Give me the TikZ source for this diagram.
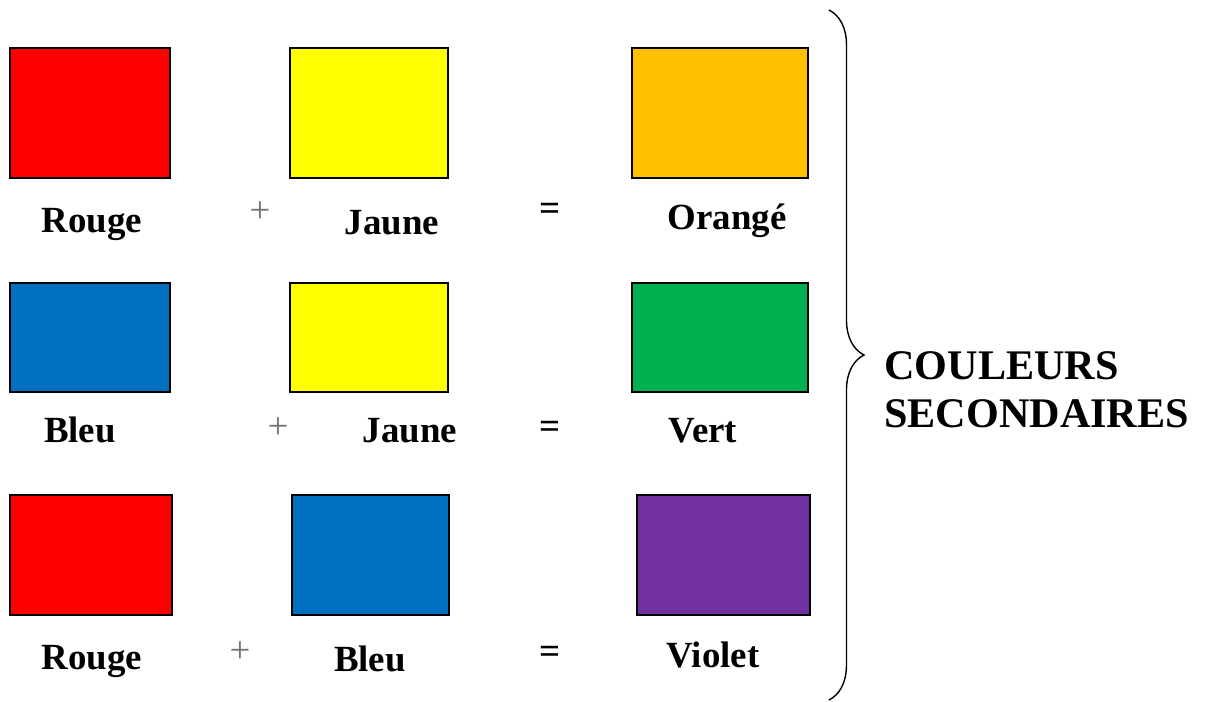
\documentclass[tikz,border=0pt]{standalone}
\usepackage{fontspec}
\setmainfont{Liberation Serif}
\usetikzlibrary{decorations.pathreplacing}
\definecolor{rouge}{HTML}{FF0000}
\definecolor{jaune}{HTML}{FFFF00}
\definecolor{orange}{HTML}{FFC000}
\definecolor{bleu}{HTML}{0070C0}
\definecolor{vert}{HTML}{00B050}
\definecolor{violet}{HTML}{7030A0}
\tikzset{
    colbox/.style={draw=black, line width=1.1pt, inner sep=0pt, outer sep=0pt, anchor=north west},
    colname/.style={font=\bfseries\fontsize{21}{25}\selectfont, inner sep=0pt, anchor=base},
    opsign/.style={font=\fontsize{21}{25}\selectfont, inner sep=0pt},
}
\begin{document}
\begin{tikzpicture}[x=0.02cm, y=-0.02cm]
    \useasboundingbox (0,0) rectangle (1205,702);

    % colour squares, three rows
    \foreach \nm/\px/\py/\w/\h/\col in {rouge1/10/48/160/130/rouge, jaune1/290/48/158/130/jaune, orange1/632/48/176/130/orange,
            bleu2/10/283/160/109/bleu, jaune2/290/283/158/109/jaune, vert2/632/283/176/109/vert,
            rouge3/10/495/162/120/rouge, bleu3/292/495/157/120/bleu, violet3/637/495/173/120/violet} {
            \node[colbox, fill=\col, minimum width=\w*0.02cm, minimum height=\h*0.02cm] (\nm) at (\px,\py) {};
        }

    % names under the squares
    \foreach \nm/\px/\py/\txt in {rouge1/92/233/Rouge, jaune1/392/235/Jaune, orange1/727/230/Orangé,
            bleu2/80/443/Bleu, jaune2/410/443/Jaune, vert2/703/443/Vert,
            rouge3/92/670/Rouge, bleu3/370/672/Bleu, violet3/713/668/Violet} {
            \node[colname] (t-\nm) at (\px,\py) {\txt};
        }

    % + and = signs
    \foreach \row/\px/\py in {1/260/212, 2/278/428, 3/240/652} {
            \node[opsign, text=black!55] (plus\row) at (\px,\py) {+};
        }
    \foreach \row/\py in {1/212, 2/430, 3/655} {
            \node[opsign, font=\bfseries\fontsize{21}{25}\selectfont] (egal\row) at (550,\py) {=};
        }

    % brace and result
    \coordinate (btop) at (829,10);
    \coordinate (bbot) at (829,700);
    \draw[line width=0.8pt, decorate, decoration={brace, amplitude=0.7cm}] (btop) -- (bbot);
    \node[anchor=west, align=left, inner sep=0pt, font=\bfseries\fontsize{24}{27.3}\selectfont] (second) at (884,390) {COULEURS\\SECONDAIRES};
\end{tikzpicture}
\end{document}
